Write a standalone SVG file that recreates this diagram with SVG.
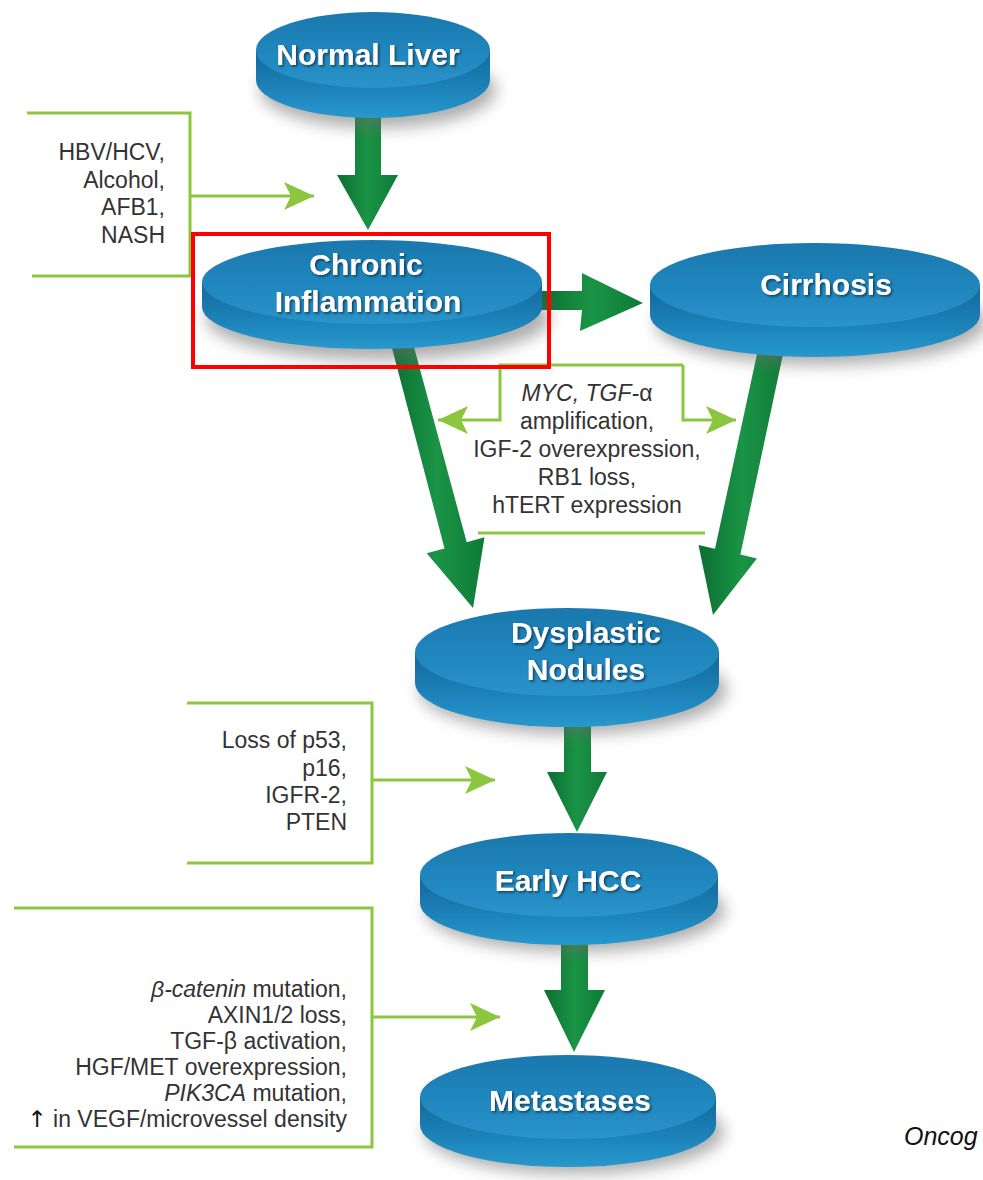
<svg xmlns="http://www.w3.org/2000/svg" width="983" height="1180" viewBox="0 0 983 1180">
<defs>
<style>
.face{fill:url(#gFace)}
.side{fill:url(#gSide)}
.shadow{fill:#6a6a6a;opacity:.55;filter:url(#blur)}
.ttl{font-family:"Liberation Sans",Arial,sans-serif;font-weight:bold;font-size:30px;fill:#fff;text-anchor:middle;filter:url(#tshadow)}
.lbl{font-family:"Liberation Sans",Arial,sans-serif;font-size:23px;fill:#333}
.r{text-anchor:end}
.c{text-anchor:middle}
.it{font-style:italic}
.up{font-family:"DejaVu Sans",sans-serif;fill:#111}
.lg{fill:none;stroke:#8cc63f;stroke-width:3}
.big{fill:url(#gArrow)}
</style>
<linearGradient id="gFace" x1="0" y1="0" x2="0" y2="1">
<stop offset="0" stop-color="#1a78ad"/>
<stop offset="0.5" stop-color="#1f86bd"/>
<stop offset="1" stop-color="#2a93c8"/>
</linearGradient>
<linearGradient id="gSide" x1="0" y1="0" x2="0" y2="1">
<stop offset="0" stop-color="#14679a"/>
<stop offset="0.6" stop-color="#1d84ba"/>
<stop offset="1" stop-color="#2898cd"/>
</linearGradient>
<linearGradient id="gArrow" x1="0" y1="0" x2="1" y2="0">
<stop offset="0" stop-color="#0c6e31"/>
<stop offset="0.5" stop-color="#1a9446"/>
<stop offset="1" stop-color="#0f7a37"/>
</linearGradient>
<filter id="blur" x="-20%" y="-40%" width="140%" height="180%">
<feGaussianBlur stdDeviation="8"/>
</filter>
<filter id="tshadow" x="-10%" y="-30%" width="120%" height="160%">
<feDropShadow dx="1.5" dy="1.5" stdDeviation="1" flood-color="#0a3550" flood-opacity="0.9"/>
</filter>
<marker id="ah" markerUnits="userSpaceOnUse" markerWidth="32" markerHeight="30" refX="30" refY="15" orient="auto">
<path d="M0,1 L30,15 L0,29 L7,15 Z" fill="#8cc63f"/>
</marker>
</defs>
<rect width="983" height="1180" fill="#fff"/>

<g id="connectors">
<polygon class="big" points="355,110 381,110 381,175 398,175 368,230 337,175 355,175"/>
<polygon class="big" points="540,291 582,291 582,273 643,303 580,331 582,310 540,310"/>
<polygon class="big" points="389.9,340 412.1,340 466.7,542.2 484.5,537.3 473,608 426.7,553.3 444.5,548.4"/>
<polygon class="big" points="760,340 786,340 740.4,554.6 756.9,558.5 713,615 698.5,544.9 715,548.8"/>
<polygon class="big" points="564,720 591,720 591,772 607,772 577,832 547,772 564,772"/>
<polygon class="big" points="561,940 588,940 588,990 605,990 574,1052 544,990 561,990"/>
<path class="lg" d="M27,113 H190 V276 H32"/>
<path class="lg" d="M190,196 H314" marker-end="url(#ah)"/>
<path class="lg" d="M683,365 H500 V420 H438" marker-end="url(#ah)"/>
<path class="lg" d="M683,365 V420 H736" marker-end="url(#ah)"/>
<path class="lg" d="M478,533 H705"/>
<path class="lg" d="M187,703 H372 V863 H187"/>
<path class="lg" d="M372,780 H495" marker-end="url(#ah)"/>
<path class="lg" d="M14,908 H372 V1147 H14"/>
<path class="lg" d="M372,1017 H500" marker-end="url(#ah)"/>
</g>

<g id="normal-liver">
<ellipse class="shadow" cx="378" cy="90" rx="118" ry="38"/>
<path class="side" d="M256,50 L256,80 A117,38 0 0 0 490,80 L490,50 Z"/>
<ellipse class="face" cx="373" cy="50" rx="117" ry="38"/>
<text class="ttl" x="368" y="65">Normal Liver</text>
</g>

<g id="chronic-inflammation">
<ellipse class="shadow" cx="378" cy="318" rx="172" ry="42"/>
<path class="side" d="M202,282 L202,307 A170,42 0 0 0 542,307 L542,282 Z"/>
<ellipse class="face" cx="372" cy="282" rx="170" ry="42"/>
<text class="ttl" x="366" y="275">Chronic</text>
<text class="ttl" x="368" y="312">Inflammation</text>
</g>

<g id="cirrhosis">
<ellipse class="shadow" cx="821" cy="323" rx="166" ry="42"/>
<path class="side" d="M650,285 L650,315 A165,42 0 0 0 980,315 L980,285 Z"/>
<ellipse class="face" cx="815" cy="285" rx="165" ry="42"/>
<text class="ttl" x="826" y="295">Cirrhosis</text>
</g>

<g id="dysplastic-nodules">
<ellipse class="shadow" cx="573" cy="690" rx="154" ry="44"/>
<path class="side" d="M415,652 L415,683 A152,44 0 0 0 719,683 L719,652 Z"/>
<ellipse class="face" cx="567" cy="652" rx="152" ry="44"/>
<text class="ttl" x="586" y="643">Dysplastic</text>
<text class="ttl" x="586" y="680">Nodules</text>
</g>

<g id="early-hcc">
<ellipse class="shadow" cx="575" cy="910" rx="150" ry="42"/>
<path class="side" d="M420,875 L420,903 A149,42 0 0 0 718,903 L718,875 Z"/>
<ellipse class="face" cx="569" cy="875" rx="149" ry="42"/>
<text class="ttl" x="568" y="891">Early HCC</text>
</g>

<g id="metastases">
<ellipse class="shadow" cx="574" cy="1132" rx="150" ry="42"/>
<path class="side" d="M420,1097 L420,1125 A148,42 0 0 0 716,1125 L716,1097 Z"/>
<ellipse class="face" cx="568" cy="1097" rx="148" ry="42"/>
<text class="ttl" x="570" y="1111">Metastases</text>
</g>

<g id="label-causes">
<text class="lbl r" x="165" y="160">HBV/HCV,</text>
<text class="lbl r" x="165" y="188">Alcohol,</text>
<text class="lbl r" x="165" y="215">AFB1,</text>
<text class="lbl r" x="165" y="243">NASH</text>
</g>

<g id="label-middle">
<text class="lbl c" x="587" y="401"><tspan class="it">MYC, TGF-</tspan>α</text>
<text class="lbl c" x="587" y="429">amplification,</text>
<text class="lbl c" x="587" y="457">IGF-2 overexpression,</text>
<text class="lbl c" x="587" y="485">RB1 loss,</text>
<text class="lbl c" x="587" y="513">hTERT expression</text>
</g>

<g id="label-loss">
<text class="lbl r" x="347" y="748">Loss of p53,</text>
<text class="lbl r" x="347" y="776">p16,</text>
<text class="lbl r" x="347" y="803">IGFR-2,</text>
<text class="lbl r" x="347" y="830">PTEN</text>
</g>

<g id="label-metastasis">
<text class="lbl r" x="347" y="997"><tspan class="it">β-catenin</tspan> mutation,</text>
<text class="lbl r" x="347" y="1023">AXIN1/2 loss,</text>
<text class="lbl r" x="347" y="1049">TGF-β activation,</text>
<text class="lbl r" x="347" y="1075">HGF/MET overexpression,</text>
<text class="lbl r" x="347" y="1101"><tspan class="it">PIK3CA</tspan> mutation,</text>
<text class="lbl r" x="347" y="1127"><tspan class="up">↑</tspan> in VEGF/microvessel density</text>
</g>

<rect id="highlight" x="193" y="234" width="356" height="133" fill="none" stroke="#ff0000" stroke-width="4"/>

<text id="source" x="904" y="1145" font-family="Liberation Sans, Arial, sans-serif" font-style="italic" font-size="25" fill="#111">Oncog</text>
</svg>
